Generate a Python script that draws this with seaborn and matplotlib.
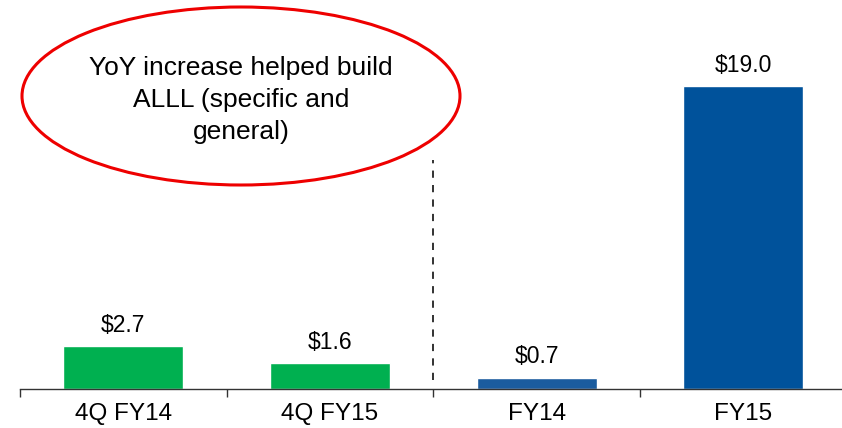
import matplotlib
matplotlib.use("Agg")
import matplotlib.pyplot as plt
from matplotlib.patches import Ellipse
import seaborn as sns
import pandas as pd

categories = ["4Q FY14", "4Q FY15", "FY14", "FY15"]
values = [2.7, 1.6, 0.7, 19.0]
labels = ["$2.7", "$1.6", "$0.7", "$19.0"]
colors = ["#00B050", "#00B050", "#1B5C9E", "#00529B"]
note = "YoY increase helped build\nALLL (specific and\ngeneral)"

sns.set_theme(style="white")
plt.rcParams['font.family'] = ['Liberation Sans', 'DejaVu Sans']

fig = plt.figure(figsize=(8.42, 4.28), dpi=100)
ax = fig.add_axes([20/842, 39/428, 822/842, 389/428])

df = pd.DataFrame({"cat": categories, "val": values})
sns.barplot(data=df, x="cat", y="val", hue="cat", palette=colors, width=0.58,
            legend=False, ax=ax, saturation=1)

ax.set_xlim(-0.5, 3.477)
ax.set_ylim(0, 24.4)
ax.set_xlabel("")
ax.set_ylabel("")
ax.set_yticks([])
for s in ["top", "right", "left"]:
    ax.spines[s].set_visible(False)
ax.spines["bottom"].set_color("#333333")
ax.spines["bottom"].set_linewidth(1.0)
ax.tick_params(axis="x", which="major", length=0, labelsize=17.5, pad=10, colors="black")
ax.set_xticks([-0.5, 0.5, 1.5, 2.5], minor=True)
ax.tick_params(axis="x", which="minor", bottom=True, length=6, width=1,
               color="#333333", direction="out")

for i, (v, lab) in enumerate(zip(values, labels)):
    ax.text(i, v + 0.9, lab, ha="center", va="baseline", fontsize=16.5, color="black")

ax.plot([1.5, 1.5], [0.56, 14.36], color="#222222", lw=1.3, ls=(0, (4, 4)))

fig.patches.append(Ellipse((241/842, 1 - 96/428), 438/842, 178/428,
                           transform=fig.transFigure, fill=False,
                           edgecolor="#EE0000", lw=2.2))
fig.text(241/842, 1 - 100/428, note, ha="center", va="center", fontsize=19,
         linespacing=1.4, color="black")

fig.savefig("out.png", dpi=100)
